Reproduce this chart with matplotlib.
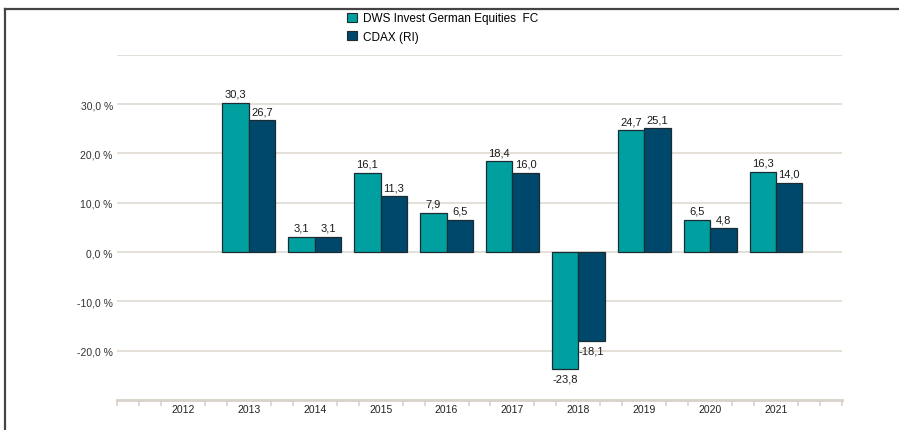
import numpy as np
import matplotlib
matplotlib.use('Agg')
import matplotlib.pyplot as plt
from matplotlib.patches import Patch
from matplotlib.lines import Line2D
from matplotlib.ticker import FixedLocator, MultipleLocator

plt.rcParams['font.family'] = ['Liberation Sans', 'DejaVu Sans']

# data
YEARS = ['2012', '2013', '2014', '2015', '2016', '2017', '2018', '2019', '2020', '2021']
FUND = [np.nan, 30.3, 3.1, 16.1, 7.9, 18.4, -23.8, 24.7, 6.5, 16.3]
CDAX = [np.nan, 26.7, 3.1, 11.3, 6.5, 16.0, -18.1, 25.1, 4.8, 14.0]
SERIES = ['DWS Invest German Equities  FC', 'CDAX (RI)']
YTICKS = [-20, -10, 0, 10, 20, 30]

C_FUND = '#00A0A0'
C_CDAX = '#00486B'
EDGE = '#1B2B33'
GRID = '#E4E0D8'

fig = plt.figure(figsize=(8.99, 4.31), dpi=100)
ax = fig.add_axes([117 / 899, (431 - 401) / 431, 725 / 899, (401 - 55.7) / 431])

x = np.arange(len(YEARS))
w = 0.4
for vals, off, col in ((FUND, -w / 2, C_FUND), (CDAX, w / 2, C_CDAX)):
    ax.bar(x + off, vals, width=w, color=col, edgecolor=EDGE, linewidth=0.9, zorder=3)
    for xi, v in zip(x, vals):
        if np.isnan(v):
            continue
        lab = f"{v:.1f}".replace('.', ',')
        if v >= 0:
            ax.annotate(lab, (xi + off, v), xytext=(0, 3), textcoords='offset points',
                        ha='center', va='bottom', fontsize=8, color='#1a1a1a')
        else:
            ax.annotate(lab, (xi + off, v), xytext=(0, -3), textcoords='offset points',
                        ha='center', va='top', fontsize=8, color='#1a1a1a')

ax.set_xlim(-1, 10)
ax.set_ylim(-30, 40)

# horizontal grid
for g in [-20, -10, 0, 10, 20, 30, 40]:
    ax.axhline(g, color=GRID, lw=1.4, zorder=1)

ax.yaxis.set_major_locator(FixedLocator(YTICKS))
ax.set_yticklabels([f"{t:.1f} %".replace('.', ',') for t in YTICKS])
ax.tick_params(axis='y', length=0, pad=3, labelsize=7.5, labelcolor='#333')

ax.xaxis.set_major_locator(FixedLocator(x))
ax.set_xticklabels(YEARS)
ax.xaxis.set_minor_locator(MultipleLocator(1 / 3))
ax.tick_params(axis='x', which='major', length=0, pad=3, labelsize=7.5, labelcolor='#222')
ax.tick_params(axis='x', which='minor', length=4, width=1.2, color='#D8D3C9', direction='out')

for s in ('top', 'right', 'left'):
    ax.spines[s].set_visible(False)
ax.spines['bottom'].set_color('#D8D3C9')
ax.spines['bottom'].set_linewidth(2)

handles = [Patch(facecolor=C_FUND, edgecolor=EDGE, linewidth=0.8, label=SERIES[0]),
           Patch(facecolor=C_CDAX, edgecolor=EDGE, linewidth=0.8, label=SERIES[1])]
fig.legend(handles=handles, loc='upper left', bbox_to_anchor=(345 / 899, 1 - 11 / 431),
           frameon=False, fontsize=8.5, handlelength=0.8, handleheight=0.8,
           handletextpad=0.55, labelspacing=0.55, borderaxespad=0, borderpad=0.2)

# frame lines (top and left)
fig.add_artist(Line2D([4.5 / 899, 1], [1 - 9.5 / 431] * 2, transform=fig.transFigure,
                      color='#444', lw=1.6))
fig.add_artist(Line2D([4.5 / 899] * 2, [0, 1 - 9.5 / 431], transform=fig.transFigure,
                      color='#444', lw=1.6))

fig.savefig('out.png', dpi=100)
